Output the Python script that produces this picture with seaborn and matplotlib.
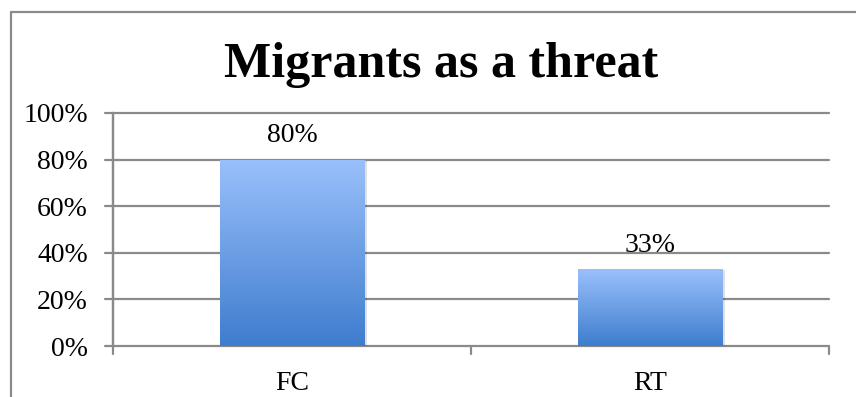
import matplotlib
matplotlib.use("Agg")
import matplotlib.pyplot as plt
import seaborn as sns
import numpy as np
import pandas as pd
from matplotlib.lines import Line2D
from matplotlib.colors import LinearSegmentedColormap

categories = ["FC", "RT"]
values = [80, 33]
value_labels = ["80%", "33%"]
yticks = [0, 20, 40, 60, 80, 100]
ytick_labels = ["0%", "20%", "40%", "60%", "80%", "100%"]
title = "Migrants as a threat"

sns.set_theme(style="white")
plt.rcParams["font.family"] = ["Liberation Serif", "DejaVu Serif"]
plt.rcParams["text.color"] = "black"
plt.rcParams["xtick.color"] = "black"
plt.rcParams["ytick.color"] = "black"

W, H = 856, 397
fig = plt.figure(figsize=(W / 100, H / 100), dpi=100)
ax = fig.add_axes([113 / W, 1 - 346 / H, (829 - 113) / W, (346 - 113) / H])

df = pd.DataFrame({"cat": categories, "val": values})
sns.barplot(data=df, x="cat", y="val", ax=ax, width=0.405, color="#5b8fdc",
            edgecolor="none", linewidth=0, zorder=3)

ax.set_ylim(0, 100)
ax.set_xlim(-0.5, 1.5)
ax.set_yticks(yticks)
ax.set_yticklabels(ytick_labels, fontsize=20, color="black")
ax.set_xticks([0, 1])
ax.set_xticklabels(categories, fontsize=20, color="black")
ax.set_xlabel("")
ax.set_ylabel("")
ax.tick_params(axis="y", length=0, pad=18)
ax.tick_params(axis="x", length=0, pad=18)

grid_c = "#8a8a8a"
for t in yticks:
    ax.axhline(t, color=grid_c, lw=1.6, zorder=1, clip_on=False)
    ax.plot([-0.5 - 8 / 358, -0.5], [t, t], color=grid_c, lw=1.6, clip_on=False, zorder=1)
for s in ["top", "right", "bottom"]:
    ax.spines[s].set_visible(False)
ax.spines["left"].set_color(grid_c)
ax.spines["left"].set_linewidth(1.6)
for xb in [-0.5, 0.5, 1.5]:
    ax.plot([xb, xb], [0, -8 / 233 * 100], color=grid_c, lw=1.6, clip_on=False, zorder=1)
ax.plot([-0.5, -0.5], [0, 100], color=grid_c, lw=1.6, clip_on=False, zorder=2)

# gradient fill
cmap = LinearSegmentedColormap.from_list("g", ["#3e7dce", "#9ac0fb"])
grad = np.linspace(0, 1, 256).reshape(-1, 1)
for p in list(ax.patches):
    x0, y0 = p.get_x(), p.get_y()
    w, h = p.get_width(), p.get_height()
    sh = plt.Rectangle((x0 + 0.006, y0), w, h - 0.4, color="#000000", alpha=0.12,
                       zorder=2.5, lw=0)
    ax.add_patch(sh)
    im = ax.imshow(grad, extent=[x0, x0 + w, y0, y0 + h], origin="lower",
                   cmap=cmap, aspect="auto", zorder=3.5)
    im.set_clip_path(p)

ax.set_xlim(-0.5, 1.5)
ax.set_ylim(0, 100)

for i, (v, lab) in enumerate(zip(values, value_labels)):
    ax.annotate(lab, (i, v), xytext=(0, 8), textcoords="offset points",
                ha="center", va="bottom", fontsize=20, color="black")

fig.text(441 / W, 1 - 65 / H, title, ha="center", va="center", fontsize=36,
         fontweight="bold", color="black")

fig.add_artist(Line2D([11 / W, 1], [1 - 12 / H, 1 - 12 / H], color="#8a8a8a", lw=1.6,
                      transform=fig.transFigure))
fig.add_artist(Line2D([11 / W, 11 / W], [0, 1 - 12 / H], color="#8a8a8a", lw=1.6,
                      transform=fig.transFigure))

fig.savefig("out.png", dpi=100)
